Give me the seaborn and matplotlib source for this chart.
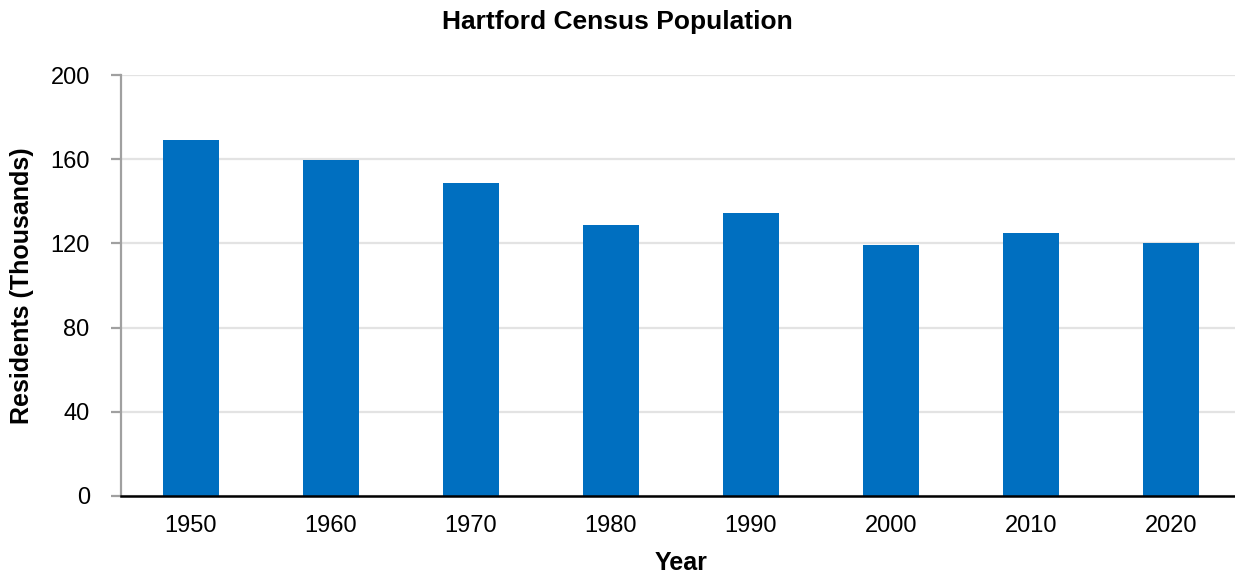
import matplotlib
matplotlib.use('Agg')
import matplotlib.pyplot as plt
import seaborn as sns
import pandas as pd

# Hartford census population, thousands of residents
years = ['1950', '1960', '1970', '1980', '1990', '2000', '2010', '2020']
residents = [168.9, 159.4, 148.9, 128.9, 134.6, 119.4, 125.1, 120.3]
y_ticks = [0, 40, 80, 120, 160, 200]

df = pd.DataFrame({'Year': years, 'Residents': residents})

sns.set_theme(style='white')
plt.rcParams['font.family'] = ['Liberation Sans', 'DejaVu Sans']
plt.rcParams['text.color'] = 'black'
plt.rcParams['axes.labelcolor'] = 'black'

fig = plt.figure(figsize=(12.35, 5.75), dpi=100)
ax = fig.add_axes([121 / 1235, 79 / 575, 1120 / 1235, 421 / 575])

sns.barplot(data=df, x='Year', y='Residents', color='#006FC0', width=0.4,
            saturation=1, linewidth=0, ax=ax, zorder=3)

ax.set_ylim(0, 200)
ax.set_xlim(-0.5, len(years) - 0.5)
ax.set_yticks(y_ticks)
ax.yaxis.grid(True, color='#e3e3e3', linewidth=1.6, zorder=0)
ax.set_axisbelow(True)

for side in ['top', 'right']:
    ax.spines[side].set_visible(False)
ax.spines['left'].set_color('#a0a0a0')
ax.spines['left'].set_linewidth(1.6)
ax.spines['bottom'].set_color('black')
ax.spines['bottom'].set_linewidth(1.8)
ax.spines['bottom'].set_zorder(4)

ax.tick_params(axis='y', length=7.5, width=1.6, color='#a0a0a0', pad=15,
               labelsize=17, labelcolor='black', left=True)
ax.tick_params(axis='x', length=0, pad=14, labelsize=17, labelcolor='black')

ax.set_xlabel('Year', fontsize=18, fontweight='bold', labelpad=10)
ax.set_ylabel('Residents (Thousands)', fontsize=18, fontweight='bold', labelpad=12)
fig.text(0.5, 0.961, 'Hartford Census Population', ha='center', va='center',
         fontsize=19, fontweight='bold')

fig.savefig('out.png', dpi=100)
